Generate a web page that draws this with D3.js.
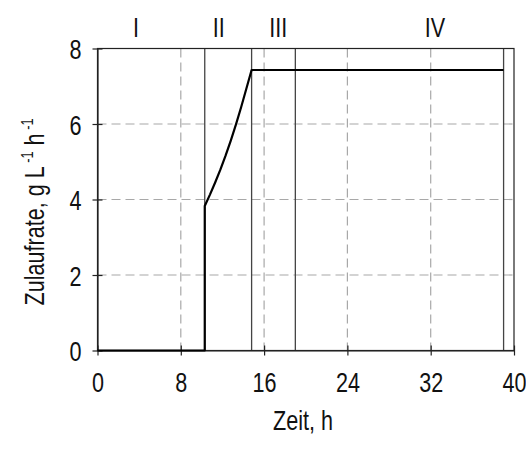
<!DOCTYPE html>
<html>
<head>
<meta charset="utf-8">
<script src="https://cdn.jsdelivr.net/npm/d3@7/dist/d3.min.js"></script>
<style>
  html, body { margin: 0; padding: 0; background: #fff; }
  svg text { font-family: "Liberation Sans", Arial, sans-serif; fill: #111; }
</style>
</head>
<body>
<svg id="chart" width="526" height="450"></svg>
<script>
// Feed profile: batch phase (no feed), exponential feed, then constant feed
const timeH = [0, 10.3, 10.3, 10.8, 11.3, 11.8, 12.3, 12.8, 13.3, 13.8, 14.3, 14.8, 39];
const feedRate = [0, 0, 3.83, 4.13, 4.45, 4.79, 5.16, 5.56, 5.99, 6.45, 6.94, 7.43, 7.43];

// Phase boundaries (h) and phase labels
const phaseBounds = [10.3, 14.8, 19, 39];
const phaseLabels = ["I", "II", "III", "IV"];
const phaseLabelPos = [3.7, 11.65, 17.35, 32.4];

// Axis ticks
const xTicks = [0, 8, 16, 24, 32, 40];
const yTicks = [0, 2, 4, 6, 8];

const NARROW = 0.8;   // horizontal squeeze for a narrow face
const FS = 27;        // base font size

const svg = d3.select("#chart");
const x = d3.scaleLinear().domain([0, 40]).range([97.5, 514]);
const y = d3.scaleLinear().domain([0, 8]).range([350.5, 48.5]);

// Dashed grid
const grid = svg.append("g");
grid.selectAll("line.gx").data(xTicks.filter(d => d > 0 && d < 40)).join("line")
  .attr("x1", d => x(d)).attr("x2", d => x(d))
  .attr("y1", y(8)).attr("y2", y(0))
  .attr("stroke", "#a8a8a8").attr("stroke-width", 1.2).attr("stroke-dasharray", "9,5");
grid.selectAll("line.gy").data(yTicks.filter(d => d > 0 && d < 8)).join("line")
  .attr("x1", x(0)).attr("x2", x(40))
  .attr("y1", d => y(d)).attr("y2", d => y(d))
  .attr("stroke", "#a8a8a8").attr("stroke-width", 1.2).attr("stroke-dasharray", "9,5");

// Phase boundary lines
svg.append("g").selectAll("line").data(phaseBounds).join("line")
  .attr("x1", d => x(d)).attr("x2", d => x(d))
  .attr("y1", y(8)).attr("y2", y(0))
  .attr("stroke", "#444").attr("stroke-width", 1.3);

// Frame
svg.append("rect")
  .attr("x", x(0)).attr("y", y(8))
  .attr("width", x(40) - x(0)).attr("height", y(0) - y(8))
  .attr("fill", "none").attr("stroke", "#222").attr("stroke-width", 1.2);

// Axes
const xAxis = svg.append("g").attr("transform", `translate(0,${y(0)})`)
  .call(d3.axisBottom(x).tickValues(xTicks).tickSizeInner(5).tickSizeOuter(0).tickPadding(0));
const yAxis = svg.append("g").attr("transform", `translate(${x(0)},0)`)
  .call(d3.axisLeft(y).tickValues(yTicks).tickSizeInner(5).tickSizeOuter(0).tickPadding(0));
[xAxis, yAxis].forEach(a => {
  a.select(".domain").attr("stroke", "#222").attr("stroke-width", 1.2);
  a.selectAll(".tick line").attr("stroke", "#222").attr("stroke-width", 1.2);
  a.selectAll(".tick text").attr("font-size", FS).attr("font-family", null).attr("fill", "#111");
});
// ticks cross the axis line
xAxis.selectAll(".tick line").attr("y1", -5).attr("y2", 5);
yAxis.selectAll(".tick line").attr("x1", 5).attr("x2", -5);
// narrow tick labels
xAxis.selectAll(".tick text").attr("dy", null).attr("y", 42)
  .attr("transform", `scale(${NARROW},1)`);
yAxis.selectAll(".tick text").attr("dy", null).attr("y", 10).attr("x", -16 / NARROW)
  .attr("transform", `scale(${NARROW},1)`);

// Feed rate line
const line = d3.line().x((d, i) => x(timeH[i])).y(d => y(d));
svg.append("path").datum(feedRate)
  .attr("d", line)
  .attr("fill", "none").attr("stroke", "#000").attr("stroke-width", 2.2)
  .attr("stroke-linejoin", "round");

// Phase labels
svg.append("g").selectAll("text").data(phaseLabels).join("text")
  .attr("transform", (d, i) => `translate(${x(phaseLabelPos[i])},37) scale(${NARROW},1)`)
  .attr("text-anchor", "middle")
  .attr("font-size", FS)
  .text(d => d);

// Axis titles
svg.append("text")
  .attr("transform", `translate(303,430) scale(${NARROW},1)`)
  .attr("text-anchor", "middle").attr("font-size", FS).text("Zeit, h");

const yt = svg.append("text")
  .attr("transform", `translate(44,212) rotate(-90) scale(0.8,1)`)
  .attr("text-anchor", "middle").attr("font-size", FS);
yt.append("tspan").text("Zulaufrate, g L");
yt.append("tspan").attr("font-size", 16).attr("dy", -11).text(" -1");
yt.append("tspan").attr("dy", 11).text(" h");
yt.append("tspan").attr("font-size", 16).attr("dy", -11).text(" -1");
</script>
</body>
</html>
